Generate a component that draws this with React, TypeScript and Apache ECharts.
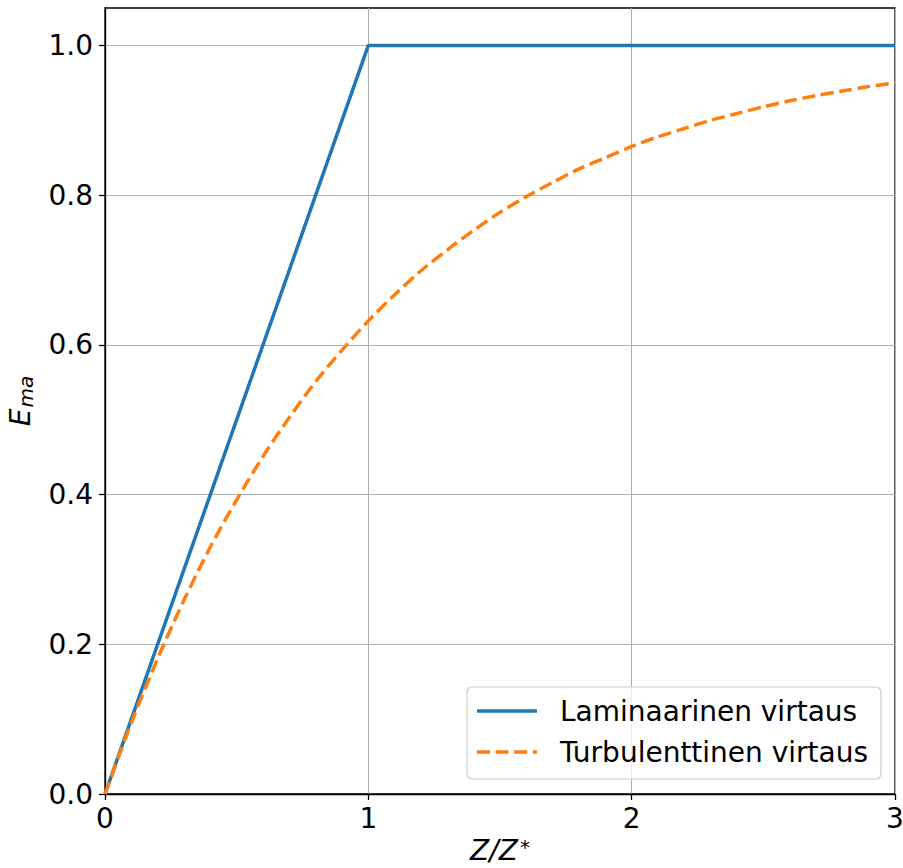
import React, { useEffect, useRef } from "react";
import * as echarts from "echarts";

// Relative position along the channel, Z/Z*
const laminarX = [0, 1, 3];
const laminarY = [0, 1, 1];

const turbulentX = [
  0, 0.1, 0.2, 0.3, 0.4, 0.5, 0.6, 0.7, 0.8, 0.9, 1.0, 1.1, 1.2, 1.3, 1.4, 1.5,
  1.6, 1.7, 1.8, 1.9, 2.0, 2.1, 2.2, 2.3, 2.4, 2.5, 2.6, 2.7, 2.8, 2.9, 3.0,
];
const turbulentY = [
  0, 0.095, 0.181, 0.259, 0.33, 0.393, 0.451, 0.503, 0.551, 0.593, 0.632, 0.667,
  0.699, 0.727, 0.753, 0.777, 0.798, 0.817, 0.835, 0.85, 0.865, 0.878, 0.889,
  0.9, 0.909, 0.918, 0.926, 0.933, 0.939, 0.945, 0.95,
];

const xTicks = [0, 1, 2, 3];
const yTicks = [0, 0.2, 0.4, 0.6, 0.8, 1.0];

const seriesNames = ["Laminaarinen virtaus", "Turbulenttinen virtaus"];
const seriesColors = ["#1f77b4", "#ff7f0e"];

const FONT = "DejaVu Sans";
const DASH = [13, 5.6];

export default function App() {
  const ref = useRef<HTMLDivElement>(null);

  useEffect(() => {
    document.body.style.margin = "0";
    if (!ref.current) return;
    const chart = echarts.init(ref.current, undefined, { renderer: "svg" });

    const pair = (xs: number[], ys: number[]) => xs.map((x, i) => [x, ys[i]]);

    // Legend box drawn in the lower-right corner of the plot
    const legendRows = seriesNames.map((name, i) => {
      const y = 711 + i * 41;
      return [
        {
          type: "line",
          shape: { x1: 477, y1: y, x2: 537, y2: y },
          style: {
            stroke: seriesColors[i],
            lineWidth: 3.5,
            lineDash: i === 1 ? DASH : null,
          },
          z: 101,
        },
        {
          type: "text",
          x: 560,
          y: y,
          style: {
            text: name,
            fontFamily: FONT,
            fontSize: 28,
            fill: "#000",
            verticalAlign: "middle",
            align: "left",
          },
          z: 101,
        },
      ];
    });

    chart.setOption({
      animation: false,
      backgroundColor: "#ffffff",
      textStyle: { fontFamily: FONT },
      grid: {
        left: 105,
        top: 8,
        right: 8,
        bottom: 74,
        outerBoundsMode: "none",
        containLabel: false,
        show: true,
        borderColor: "#000000",
        borderWidth: 1.3,
        backgroundColor: "transparent",
      },
      xAxis: {
        type: "value",
        min: 0,
        max: 3,
        interval: 1,
        name: "{i|Z/Z}{sup|*}",
        nameLocation: "middle",
        nameGap: 39,
        nameTextStyle: {
          rich: {
            i: {
              fontFamily: FONT,
              fontSize: 28,
              lineHeight: 28,
              fontStyle: "italic",
              color: "#000",
            },
            sup: {
              fontFamily: FONT,
              fontSize: 20,
              lineHeight: 20,
              color: "#000",
              verticalAlign: "top",
              padding: [0, 0, 14, 2],
            },
          },
        },
        axisLine: { show: true, onZero: false, lineStyle: { color: "#000", width: 1.3 } },
        axisTick: {
          show: true,
          length: 6,
          inside: false,
          customValues: xTicks,
          lineStyle: { color: "#000", width: 1.3 },
        },
        axisLabel: {
          customValues: xTicks,
          fontFamily: FONT,
          fontSize: 28,
          color: "#000",
          margin: 10,
          formatter: (v: number) => String(v),
        },
        splitLine: { show: true, lineStyle: { color: "#b0b0b0", width: 1.1 } },
      },
      yAxis: {
        type: "value",
        min: 0,
        max: 1.05,
        interval: 0.2,
        name: "{i|E}{sub|ma}",
        nameLocation: "middle",
        nameRotate: 90,
        nameGap: 69,
        nameTextStyle: {
          rich: {
            i: { fontFamily: FONT, fontSize: 28, fontStyle: "italic", color: "#000" },
            sub: {
              fontFamily: FONT,
              fontSize: 20,
              fontStyle: "italic",
              color: "#000",
              verticalAlign: "bottom",
              padding: [12, 0, 0, 1],
            },
          },
        },
        axisLine: { show: true, onZero: false, lineStyle: { color: "#000", width: 1.3 } },
        axisTick: {
          show: true,
          length: 6,
          inside: false,
          customValues: yTicks,
          lineStyle: { color: "#000", width: 1.3 },
        },
        axisLabel: {
          customValues: yTicks,
          fontFamily: FONT,
          fontSize: 28,
          color: "#000",
          margin: 12,
          formatter: (v: number) => v.toFixed(1),
        },
        splitLine: { show: true, lineStyle: { color: "#b0b0b0", width: 1.1 } },
      },
      graphic: [
        {
          type: "rect",
          shape: { x: 467, y: 687, width: 414, height: 92, r: 5 },
          style: { fill: "rgba(255,255,255,0.8)", stroke: "#cccccc", lineWidth: 1.2 },
          z: 100,
        },
        ...legendRows.flat(),
      ],
      series: [
        {
          name: seriesNames[0],
          type: "line",
          data: pair(laminarX, laminarY),
          showSymbol: false,
          symbol: "none",
          lineStyle: { color: seriesColors[0], width: 3.5 },
          itemStyle: { color: seriesColors[0] },
          z: 3,
        },
        {
          name: seriesNames[1],
          type: "line",
          data: pair(turbulentX, turbulentY),
          smooth: 0.3,
          showSymbol: false,
          symbol: "none",
          lineStyle: { color: seriesColors[1], width: 3.5, type: DASH },
          itemStyle: { color: seriesColors[1] },
          z: 3,
        },
      ],
    });

    return () => chart.dispose();
  }, []);

  return <div ref={ref} style={{ width: 903, height: 868 }} />;
}
